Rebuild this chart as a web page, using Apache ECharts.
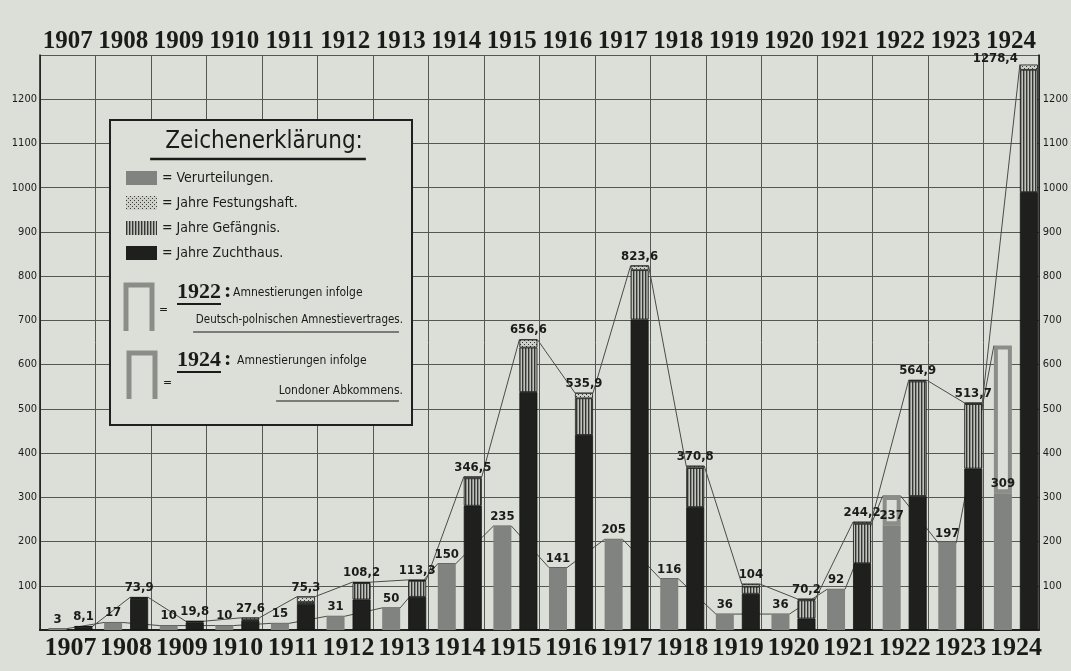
<!DOCTYPE html>
<html><head><meta charset="utf-8">
<script src="https://cdn.jsdelivr.net/npm/echarts@6/dist/echarts.min.js"></script>
<style>html,body{margin:0;padding:0;background:#dcdfd7;}#c{width:1071px;height:671px;}</style>
</head><body><div id="c"></div>
<script>
// ---------- DATA ----------
const years = ['1907','1908','1909','1910','1911','1912','1913','1914','1915','1916','1917','1918','1919','1920','1921','1922','1923','1924'];
const verurteilungen = [3, 17, 10, 10, 15, 31, 50, 150, 235, 141, 205, 116, 36, 36, 92, 237, 197, 309];
const amnestie = [null, null, null, null, null, null, null, null, null, null, null, null, null, null, null, 66, null, 334];
const zuchthaus = [6, 70, 17, 21, 59, 69, 75, 281, 538, 441, 702, 278, 82, 26, 151, 303, 365, 990];
const gefaengnis = [1.5, 2.0, 2.0, 2.0, 4.3, 37.0, 36.0, 62.0, 100.6, 82.9, 111.6, 88.0, 16.0, 41.0, 89.0, 258.9, 145.7, 276.4];
const festungshaft = [0.6, 1.9, 0.8, 4.6, 12, 2.2, 2.3, 3.5, 18, 12, 10, 4.8, 6, 3.2, 4.2, 3, 3, 12];
const gesamtJahre = [8.1, 73.9, 19.8, 27.6, 75.3, 108.2, 113.3, 346.5, 656.6, 535.9, 823.6, 370.8, 104, 70.2, 244.2, 564.9, 513.7, 1278.4];

// ---------- FONTS ----------
function hasFont(name){
  const ctx = document.createElement('canvas').getContext('2d');
  const s = '1907 Zeichenerklärung Amnestierungen';
  ctx.font = '40px monospace'; const w1 = ctx.measureText(s).width;
  ctx.font = '40px "' + name + '", monospace'; const w2 = ctx.measureText(s).width;
  return Math.abs(w1 - w2) > 0.5;
}
const hasNarrow = hasFont('Liberation Sans Narrow');
const NARROW = hasNarrow ? '"Liberation Sans Narrow"' : '"DejaVu Sans Condensed"';
const K = hasNarrow ? 1.12 : 0.86;
const YEARFONT = '"Liberation Serif", "DejaVu Serif", serif';
const measureCtx = document.createElement('canvas').getContext('2d');
function textW(t, font){ measureCtx.font = font; return measureCtx.measureText(t).width; }

// ---------- STYLE ----------
const BG = '#dcdfd7';
const INK = '#1b1b1a';
const GRID = '#555753';
const GRAY = '#80837f';
const BLACK = '#1f201e';
const AMN = '#8b8d89';
const BAR_W = 18, BAR_GAP = 8, OFF = (BAR_W + BAR_GAP) / 2;
const GRID_RIGHT_X = 1041;

function stripePattern(){
  const c = document.createElement('canvas'); c.width = 3; c.height = 4;
  const g = c.getContext('2d');
  g.fillStyle = '#c0c2bc'; g.fillRect(0,0,3,4);
  g.fillStyle = '#353634'; g.fillRect(0,0,1,4);
  g.fillStyle = '#8a8c87'; g.fillRect(1,0,1,4);
  return {image: c, repeat: 'repeat'};
}
function dotPattern(){
  const c = document.createElement('canvas'); c.width = 4; c.height = 4;
  const g = c.getContext('2d');
  g.fillStyle = '#cdcfc8'; g.fillRect(0,0,4,4);
  g.fillStyle = '#3a3b38'; g.fillRect(0,0,1,1); g.fillRect(2,2,1,1);
  return {image: c, repeat: 'repeat'};
}
const fmt = v => String(v).replace('.', ',');

const chart = echarts.init(document.getElementById('c'), null, {renderer: 'canvas'});

const yearFontBottom = {fontFamily: YEARFONT, fontWeight: 'bold', fontSize: 26, color: INK};
const yearFontTop = {fontFamily: YEARFONT, fontWeight: 'bold', fontSize: 25, color: INK};
const smallFont = {fontFamily: NARROW, fontSize: Math.round(12.5 * K), color: INK};
const valFont = {fontFamily: NARROW, fontSize: Math.round(15 * K), color: INK, fontWeight: 'bold'};

const yBase = {type: 'value', min: 0, max: 1300, interval: 100};
const grayTop = verurteilungen.map((v, i) => v + (amnestie[i] || 0));
const grayConn = [], blackConn = [];
for (let i = 0; i < years.length - 1; i++) {
  grayConn.push([i, grayTop[i], grayTop[i + 1]]);
  blackConn.push([i, gesamtJahre[i], gesamtJahre[i + 1]]);
}
function connector(offset){
  return function(params, api){
    const i = api.value(0);
    const a = api.coord([i, api.value(1)]);
    const b = api.coord([i + 1, api.value(2)]);
    const h = BAR_W / 2;
    return {type: 'polyline', shape: {points: [[a[0] + offset - h, a[1]], [a[0] + offset + h, a[1]], [b[0] + offset - h, b[1]]]},
      style: {stroke: '#4a4b48', lineWidth: 1, fill: null}};
  };
}
// labels that would run past the right frame go to the left of their bar
function keepInside(params){
  const lr = params.labelRect, r = params.rect;
  if (lr && r && lr.x + lr.width > GRID_RIGHT_X - 2) {
    return {x: r.x - 2, y: r.y - 6, align: 'right', verticalAlign: 'middle', fontWeight: 'normal'};
  }
  return {};
}

// legend box graphics
const legSeriesSize = Math.round(16 * K);
const legFont = Math.round(14 * K) + 'px ' + NARROW;
const legFontLong = (13.4 * K).toFixed(1) + 'px ' + NARROW;
const titleFont = '24px "DejaVu Sans Condensed"';
const yrLegFont = 'bold 22px ' + YEARFONT;
const txt = (x, y, t, font, align) => ({type: 'text', x: x, y: y, z: 6,
  style: {text: t, font: font, fill: INK, textAlign: align || 'left', textVerticalAlign: 'middle'}});
const line = (x1, y1, x2, y2, w, col) => ({type: 'line', z: 6, shape: {x1: x1, y1: y1, x2: x2, y2: y2}, style: {stroke: col || INK, lineWidth: w}});
const wT = textW('Zeichenerklärung:', titleFont);
const w1922 = textW('1922', yrLegFont), w1924 = textW('1924', yrLegFont);
const wDP = textW('Deutsch-polnischen Amnestievertrages', legFontLong);
const wLA = textW('Londoner Abkommens', legFont);
const graphics = [
  {type: 'rect', z: 3, shape: {x: 110, y: 120, width: 302, height: 305}, style: {fill: BG, stroke: '#202020', lineWidth: 2}},
  txt(264, 142, 'Zeichenerklärung:', titleFont, 'center'),
  line(264 - wT / 2 - 15, 159, 264 + wT / 2 + 3, 159, 2.5),
  {type: 'polyline', z: 6, shape: {points: [[126, 331], [126, 285], [152, 285], [152, 331]]}, style: {stroke: AMN, lineWidth: 5, fill: null}},
  txt(159, 310, '=', legFont),
  txt(177, 292, '1922', yrLegFont),
  line(177, 304, 177 + w1922, 304, 2),
  txt(180 + w1922, 291, ':', yrLegFont),
  txt(233, 293, 'Amnestierungen infolge', legFont),
  txt(403, 320, 'Deutsch-polnischen Amnestievertrages.', legFontLong, 'right'),
  line(399 - wDP - 2, 332, 399, 332, 1.2),
  {type: 'polyline', z: 6, shape: {points: [[129, 399], [129, 353], [155, 353], [155, 399]]}, style: {stroke: AMN, lineWidth: 5, fill: null}},
  txt(163, 383, '=', legFont),
  txt(177, 360, '1924', yrLegFont),
  line(177, 372, 177 + w1924, 372, 2),
  txt(180 + w1924, 359, ':', yrLegFont),
  txt(237, 361, 'Amnestierungen infolge', legFont),
  txt(403, 391, 'Londoner Abkommens.', legFont, 'right'),
  line(399 - wLA - 2, 401, 399, 401, 1.2)
];

const option = {
  backgroundColor: BG,
  animation: false,
  grid: [
    {left: 40, right: 30, top: 55, bottom: 41},
    {left: 42.7, right: 27.3, top: 55, bottom: 41}
  ],
  xAxis: [
    {type: 'category', gridIndex: 0, data: years, position: 'bottom',
      axisLine: {show: true, lineStyle: {color: '#151515', width: 2}}, axisTick: {show: false}, axisLabel: {show: false},
      splitLine: {show: true, interval: 0, lineStyle: {color: GRID, width: 1}}},
    {type: 'category', gridIndex: 0, data: years, position: 'top',
      axisLine: {show: true, lineStyle: {color: '#252525', width: 1.5}}, axisTick: {show: false},
      axisLabel: Object.assign({show: true, interval: 0, margin: 1}, yearFontTop), splitLine: {show: false}},
    {type: 'category', gridIndex: 1, data: years, position: 'bottom',
      axisLine: {show: false}, axisTick: {show: false},
      axisLabel: Object.assign({show: true, interval: 0, margin: 5}, yearFontBottom), splitLine: {show: false}}
  ],
  yAxis: [
    Object.assign({gridIndex: 0, position: 'left',
      axisLine: {show: true, lineStyle: {color: '#151515', width: 1.5}}, axisTick: {show: false},
      axisLabel: Object.assign({margin: 3, formatter: v => (v === 0 || v === 1300) ? '' : String(v)}, smallFont),
      splitLine: {show: true, lineStyle: {color: GRID, width: 1}}}, yBase),
    Object.assign({gridIndex: 0, position: 'right',
      axisLine: {show: true, lineStyle: {color: '#151515', width: 1.5}}, axisTick: {show: false},
      axisLabel: Object.assign({margin: 4, formatter: v => (v === 0 || v === 1300) ? '' : String(v)}, smallFont),
      splitLine: {show: false}}, yBase),
    Object.assign({gridIndex: 1, show: false, splitLine: {show: false}}, yBase)
  ],
  legend: {
    show: true, orient: 'vertical', left: 121, top: 166, z: 5,
    itemWidth: 31, itemHeight: 14, itemGap: 11, icon: 'rect', selectedMode: false,
    itemStyle: {borderWidth: 0},
    data: ['Verurteilungen', 'Jahre Festungshaft', 'Jahre Gefängnis', 'Jahre Zuchthaus'],
    formatter: n => '= ' + n + '.',
    textStyle: {fontFamily: NARROW, fontSize: legSeriesSize, lineHeight: 14, color: INK, padding: [0, 0, 0, 0]}
  },
  graphic: graphics,
  series: [
    {name: 'Verurteilungen', type: 'bar', xAxisIndex: 2, yAxisIndex: 2, stack: 'a', barWidth: BAR_W, barGap: (BAR_GAP / BAR_W * 100) + '%',
      data: verurteilungen, z: 2, itemStyle: {color: GRAY},
      label: Object.assign({show: true, position: 'top', distance: 3, formatter: p => fmt(p.value)}, valFont)},
    {name: 'Amnestie', type: 'bar', xAxisIndex: 2, yAxisIndex: 2, stack: 'a', barWidth: BAR_W,
      data: amnestie, z: 1.5, itemStyle: {color: BG, borderColor: AMN, borderWidth: 4}},
    {name: 'Jahre Zuchthaus', type: 'bar', xAxisIndex: 2, yAxisIndex: 2, stack: 'b', barWidth: BAR_W,
      data: zuchthaus, z: 2, itemStyle: {color: BLACK, borderColor: '#151515', borderWidth: 0.8}},
    {name: 'Jahre Gefängnis', type: 'bar', xAxisIndex: 2, yAxisIndex: 2, stack: 'b', barWidth: BAR_W,
      data: gefaengnis, z: 2, itemStyle: {color: stripePattern(), borderColor: '#151515', borderWidth: 0.8}},
    {name: 'Jahre Festungshaft', type: 'bar', xAxisIndex: 2, yAxisIndex: 2, stack: 'b', barWidth: BAR_W,
      data: festungshaft, z: 2, itemStyle: {color: dotPattern(), borderColor: '#151515', borderWidth: 0.8},
      label: Object.assign({show: true, position: 'top', distance: 3, formatter: p => fmt(gesamtJahre[p.dataIndex])}, valFont),
      labelLayout: keepInside},
    {name: 'Linie Verurteilungen', type: 'custom', xAxisIndex: 2, yAxisIndex: 2, z: 1, silent: true,
      renderItem: connector(-OFF), data: grayConn},
    {name: 'Linie Jahre', type: 'custom', xAxisIndex: 2, yAxisIndex: 2, z: 1, silent: true,
      renderItem: connector(OFF), data: blackConn}
  ]
};
chart.setOption(option);
</script></body></html>
